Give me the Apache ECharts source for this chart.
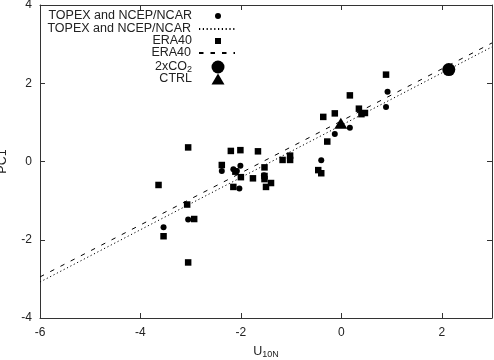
<!DOCTYPE html>
<html>
<head>
<meta charset="utf-8">
<script src="https://cdn.jsdelivr.net/npm/echarts@6/dist/echarts.min.js"></script>
<style>
  html, body { margin: 0; padding: 0; background: #fff; }
  #chart { width: 494px; height: 360px; }
</style>
</head>
<body>
<div id="chart"></div>
<script>
// data
var topexPoints = [
  [0.92, 1.78], [0.89, 1.39], [0.17, 0.86], [-0.13, 0.70], [-0.40, 0.03],
  [-2.38, -0.24], [-2.15, -0.20], [-2.01, -0.11], [-2.08, -0.24], [-2.03, -0.69],
  [-3.05, -1.48], [-3.54, -1.68], [-1.54, -0.35]
];
var eraPoints = [
  [0.89, 2.22], [0.17, 1.69], [0.35, 1.35], [0.40, 1.21], [0.47, 1.24],
  [-0.13, 1.23], [-0.36, 1.14], [-0.28, 0.51], [-0.46, -0.22], [-0.40, -0.30],
  [-1.02, 0.15], [-1.02, 0.04], [-1.17, 0.04], [-1.66, 0.26], [-2.01, 0.29],
  [-2.20, 0.27], [-2.38, -0.09], [-2.11, -0.26], [-2.00, -0.40], [-2.15, -0.65],
  [-1.76, -0.43], [-1.53, -0.15], [-1.53, -0.37], [-1.53, -0.45], [-1.50, -0.65],
  [-1.40, -0.55], [-3.05, 0.36], [-3.64, -0.60], [-3.07, -1.10], [-2.93, -1.47],
  [-3.54, -1.91], [-3.05, -2.58]
];
var topexFit = [[-6, -3.08], [3, 2.93]];
var eraFit = [[-6, -2.95], [3, 3.03]];
var co2Point = [[2.14, 2.35]];
var ctrlPoint = [[-0.01, 0.98]];

var seriesKeys = ['topexPts', 'topexFit', 'eraPts', 'eraFit', 'co2', 'ctrl'];
var seriesLabels = ['TOPEX and NCEP/NCAR', 'TOPEX and NCEP/NCAR', 'ERA40', 'ERA40', '2xCO{sub|2}', 'CTRL'];

var FONT = '"Liberation Sans", Arial, sans-serif';
var ink = '#000';
var frame = '#333';
var subStyle = { fontSize: 9, verticalAlign: 'bottom', padding: [6, 0, 0, 0], fontFamily: FONT, color: '#222' };

var myChart = echarts.init(document.getElementById('chart'));

// legend rows: one legend per entry so the icons share a centre and the text ends at the same x
var rowY = [17, 30, 42, 54, 68, 80];
var iconW = [6, 36, 6, 36, 13, 13];
var iconH = [6, 6, 6, 6, 13, 11];
var isLine = [false, true, false, true, false, false];
var iconCx = 218, textEnd = 192;
var legends = seriesKeys.map(function (k, i) {
  var left = iconCx - iconW[i] / 2;
  return {
    data: [isLine[i] ? { name: k, itemStyle: { opacity: 0 } } : k],
    orient: 'vertical',
    align: 'right',
    right: 494 - (left + iconW[i]),
    top: rowY[i] - Math.max(iconH[i], 15) / 2,
    padding: 0,
    itemWidth: iconW[i],
    itemHeight: iconH[i],
    selectedMode: false,
    formatter: function () { return seriesLabels[i]; },
    textStyle: {
      color: '#222', fontSize: 12.5, fontFamily: FONT,
      padding: [0, left - 5 - textEnd, 0, 0],
      rich: { sub: subStyle }
    }
  };
});

var axisCommon = {
  type: 'value',
  splitLine: { show: false },
  axisLine: { show: true, onZero: false, lineStyle: { color: frame, width: 1 } },
  axisTick: { show: true, inside: true, length: 5, lineStyle: { color: frame } }
};

var option = {
  animation: false,
  backgroundColor: '#fff',
  textStyle: { fontFamily: FONT },
  legend: legends,
  grid: { left: 40, right: 2, top: 5, bottom: 42, containLabel: false, outerBoundsMode: 'none' },
  xAxis: [
    Object.assign({}, axisCommon, {
      min: -6, max: 3, interval: 2, position: 'bottom',
      name: 'U{sub|10N}', nameLocation: 'middle', nameGap: 26,
      nameTextStyle: { color: '#222', fontSize: 12.5, fontFamily: FONT, rich: { sub: subStyle } },
      axisLabel: { color: '#222', fontSize: 12, fontFamily: FONT, margin: 9, showMaxLabel: false }
    }),
    Object.assign({}, axisCommon, {
      min: -6, max: 3, interval: 2, position: 'top',
      axisLabel: { show: false }
    })
  ],
  yAxis: [
    Object.assign({}, axisCommon, {
      min: -4, max: 4, interval: 2, position: 'left',
      name: 'PC1', nameLocation: 'middle', nameGap: 31, nameRotate: 90,
      nameTextStyle: { color: '#222', fontSize: 12.5, fontFamily: FONT },
      axisLabel: { color: '#222', fontSize: 12, fontFamily: FONT, margin: 8 }
    }),
    Object.assign({}, axisCommon, {
      min: -4, max: 4, interval: 2, position: 'right',
      axisLabel: { show: false }
    })
  ],
  series: [
    {
      name: 'topexFit', type: 'line', data: topexFit, symbol: 'none', z: 2,
      itemStyle: { color: ink },
      lineStyle: { color: ink, width: 1, type: [1.2, 2.6] }
    },
    {
      name: 'eraFit', type: 'line', data: eraFit, symbol: 'none', z: 2,
      itemStyle: { color: ink },
      lineStyle: { color: ink, width: 1, type: [4.5, 7] }
    },
    {
      name: 'topexPts', type: 'scatter', data: topexPoints, symbol: 'circle', symbolSize: 6, z: 3,
      itemStyle: { color: ink, opacity: 1 }
    },
    {
      name: 'eraPts', type: 'scatter', data: eraPoints, symbol: 'rect', symbolSize: 6.5, z: 3,
      itemStyle: { color: ink, opacity: 1 }
    },
    {
      name: 'co2', type: 'scatter', data: co2Point, symbol: 'circle', symbolSize: 13, z: 4,
      itemStyle: { color: ink, opacity: 1 }
    },
    {
      name: 'ctrl', type: 'scatter', data: ctrlPoint, symbol: 'triangle', symbolSize: [13, 11], z: 4,
      itemStyle: { color: ink, opacity: 1 }
    }
  ]
};

myChart.setOption(option);
</script>
</body>
</html>
